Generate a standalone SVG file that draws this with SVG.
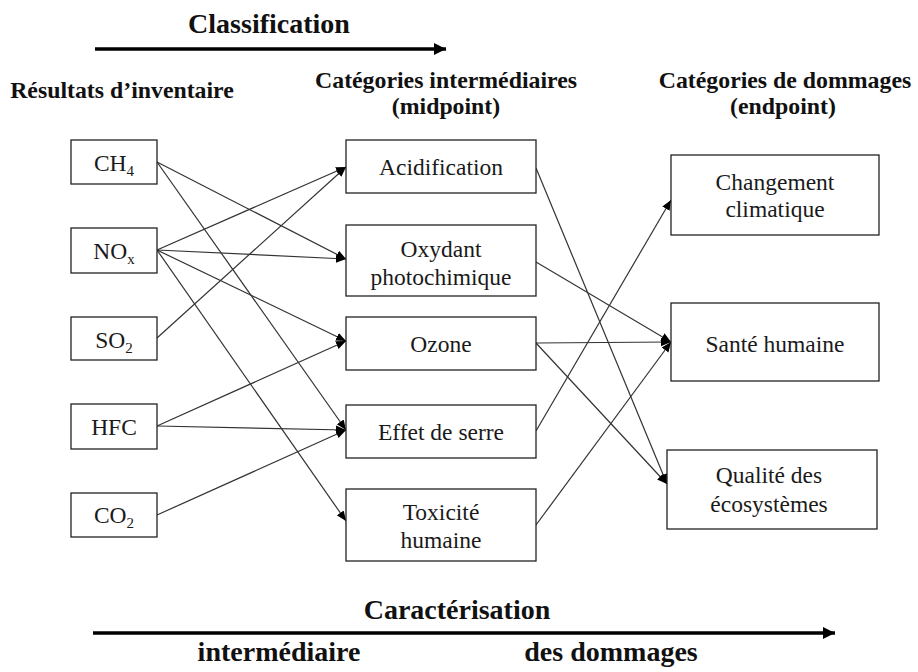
<svg xmlns="http://www.w3.org/2000/svg" width="918" height="672" viewBox="0 0 918 672">
<style>
.box{fill:#fff;stroke:#222;stroke-width:1.3}
.t{font-family:"Liberation Serif","Times New Roman",serif;font-size:23.5px;fill:#1a1a1a;text-anchor:middle}
.h{font-family:"Liberation Serif","Times New Roman",serif;font-size:23.8px;font-weight:bold;fill:#111;text-anchor:middle}
.big{font-family:"Liberation Serif","Times New Roman",serif;font-size:28px;font-weight:bold;fill:#111;text-anchor:middle}
.sub{font-size:15px}
.c{stroke:#333;stroke-width:1.2;fill:none;marker-end:url(#ah)}
.main{stroke:#000;stroke-width:3.5;fill:none;marker-end:url(#big)}
</style>
<defs>
<marker id="ah" markerUnits="userSpaceOnUse" markerWidth="12" markerHeight="10" refX="10" refY="5" orient="auto">
<path d="M0,0.8 L10,5 L0,9.2 z" fill="#000"/>
</marker>
<marker id="big" markerUnits="userSpaceOnUse" markerWidth="14" markerHeight="12" refX="12" refY="6" orient="auto">
<path d="M0,0 L12,6 L0,12 z" fill="#000"/>
</marker>
</defs>

<g id="headers">
<text class="big" x="269" y="33">Classification</text>
<text class="h" x="122" y="98">Résultats d’inventaire</text>
<text class="h" x="446" y="88">Catégories intermédiaires</text>
<text class="h" x="446" y="114">(midpoint)</text>
<text class="h" x="785" y="88">Catégories de dommages</text>
<text class="h" x="783" y="114">(endpoint)</text>
<text class="big" x="457" y="619">Caractérisation</text>
<text class="big" x="279" y="661" font-size="27">intermédiaire</text>
<text class="big" x="611" y="661" font-size="27">des dommages</text>
</g>

<g id="arrows-main">
<line class="main" x1="95" y1="49" x2="446" y2="49"/>
<line class="main" x1="93" y1="633" x2="835" y2="633"/>
</g>

<g id="connectors">
<line class="c" x1="157" y1="162" x2="346" y2="259"/>
<line class="c" x1="157" y1="162" x2="346" y2="430"/>
<line class="c" x1="157" y1="250" x2="346" y2="167"/>
<line class="c" x1="157" y1="250" x2="346" y2="259"/>
<line class="c" x1="157" y1="250" x2="346" y2="341"/>
<line class="c" x1="157" y1="250" x2="346" y2="521"/>
<line class="c" x1="157" y1="338" x2="346" y2="167"/>
<line class="c" x1="157" y1="426" x2="346" y2="341"/>
<line class="c" x1="157" y1="426" x2="346" y2="430"/>
<line class="c" x1="157" y1="515" x2="346" y2="430"/>
<line class="c" x1="536" y1="168" x2="667" y2="484"/>
<line class="c" x1="536" y1="262" x2="671" y2="342"/>
<line class="c" x1="536" y1="343" x2="671" y2="342"/>
<line class="c" x1="536" y1="343" x2="667" y2="484"/>
<line class="c" x1="536" y1="431" x2="671" y2="200"/>
<line class="c" x1="536" y1="525" x2="671" y2="342"/>
</g>

<g id="n-ch4"><rect class="box" x="71" y="140" width="86" height="44"/><text class="t" x="114" y="171">CH<tspan class="sub" dy="5">4</tspan></text></g>
<g id="n-nox"><rect class="box" x="71" y="228" width="86" height="45"/><text class="t" x="114" y="259">NO<tspan class="sub" dy="5">x</tspan></text></g>
<g id="n-so2"><rect class="box" x="71" y="317" width="86" height="43"/><text class="t" x="114" y="348">SO<tspan class="sub" dy="5">2</tspan></text></g>
<g id="n-hfc"><rect class="box" x="71" y="404" width="86" height="45"/><text class="t" x="114" y="435">HFC</text></g>
<g id="n-co2"><rect class="box" x="71" y="493" width="86" height="44"/><text class="t" x="114" y="523">CO<tspan class="sub" dy="5">2</tspan></text></g>

<g id="n-acid"><rect class="box" x="346" y="140" width="190" height="53"/><text class="t" x="441" y="175">Acidification</text></g>
<g id="n-oxy"><rect class="box" x="346" y="225" width="190" height="71"/><text class="t" x="441" y="257">Oxydant</text><text class="t" x="441" y="285">photochimique</text></g>
<g id="n-ozone"><rect class="box" x="346" y="317" width="190" height="53"/><text class="t" x="441" y="352">Ozone</text></g>
<g id="n-effet"><rect class="box" x="346" y="405" width="190" height="53"/><text class="t" x="441" y="440">Effet de serre</text></g>
<g id="n-tox"><rect class="box" x="346" y="489" width="190" height="72"/><text class="t" x="441" y="520">Toxicité</text><text class="t" x="441" y="548">humaine</text></g>

<g id="n-climat"><rect class="box" x="671" y="155" width="208" height="80"/><text class="t" x="775" y="190">Changement</text><text class="t" x="775" y="217">climatique</text></g>
<g id="n-sante"><rect class="box" x="671" y="303" width="208" height="78"/><text class="t" x="775" y="352">Santé humaine</text></g>
<g id="n-qualite"><rect class="box" x="667" y="450" width="210" height="79"/><text class="t" x="769" y="483">Qualité des</text><text class="t" x="769" y="512">écosystèmes</text></g>
</svg>
